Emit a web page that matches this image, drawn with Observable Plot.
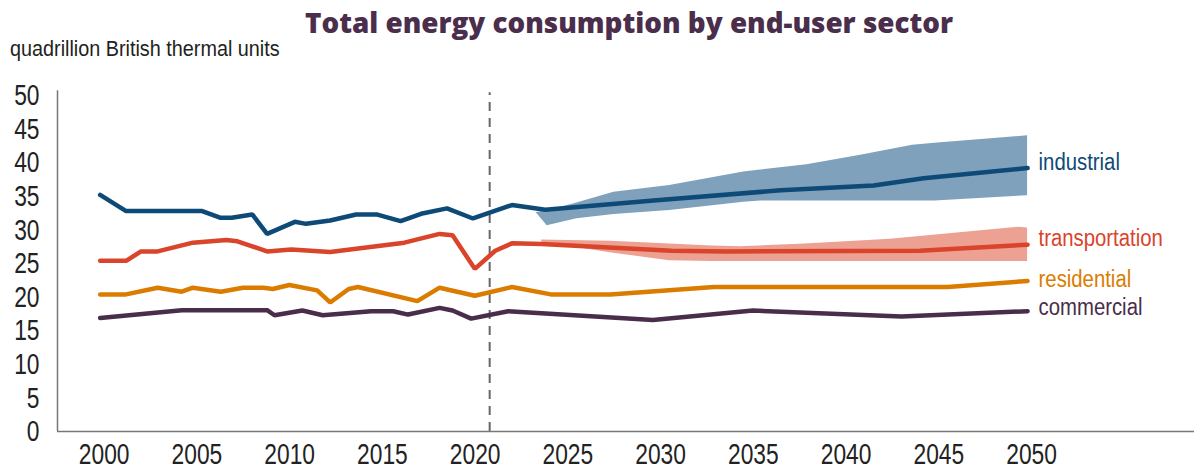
<!DOCTYPE html>
<html>
<head>
<meta charset="utf-8">
<script src="https://cdn.jsdelivr.net/npm/d3@7"></script>
<script src="https://cdn.jsdelivr.net/npm/@observablehq/plot@0.6"></script>
<style>
  body { margin: 0; background: #fff; }
  #wrap { position: relative; width: 1194px; height: 469px; }
  #title { position: absolute; left: 0; width: 1194px; top: 3px; text-align: center; padding-left: 64px; box-sizing: border-box;
           font-family: "Open Sans", Lato, sans-serif; font-weight: 800; font-size: 27.8px; color: #4b2d4c; white-space: nowrap; }
  #subtitle { position: absolute; left: 10px; top: 36px; font-family: "Liberation Sans", Arial, sans-serif;
              font-size: 22px; color: #231f20; transform: scaleX(0.9); transform-origin: left top; white-space: nowrap; }
</style>
</head>
<body>
<div id="wrap">
  <div id="chart"></div>
  <div id="title">Total energy consumption by end-user sector</div>
  <div id="subtitle">quadrillion British thermal units</div>
</div>
<script>
// ---- data ----
const sectors = ["industrial", "transportation", "residential", "commercial"];
const sectorColors = ["#0d4a77", "#d9442b", "#db7c00", "#4a2c4b"];
const bandColors = ["#7fa1bb", "#eca192"];

const industrialYears = [2000, 2001.4, 2005.5, 2006.5, 2007.1, 2008.2, 2009.0, 2010.5, 2011.1, 2012.4, 2013.8, 2014.9, 2016.2, 2017.3, 2018.7, 2020.1, 2022.2, 2024.0, 2030.0, 2036.7, 2041.7, 2044.4, 2050];
const industrialValues = [35.2, 32.8, 32.8, 31.8, 31.8, 32.3, 29.4, 31.2, 30.9, 31.4, 32.3, 32.3, 31.3, 32.4, 33.2, 31.7, 33.7, 33.0, 34.4, 35.9, 36.6, 37.7, 39.2];

const transportationYears = [2000, 2001.4, 2002.2, 2003.1, 2005.0, 2006.8, 2007.4, 2009.0, 2010.3, 2012.4, 2016.4, 2018.3, 2019.0, 2020.2, 2021.3, 2022.2, 2023.8, 2030.8, 2033.8, 2044.2, 2050];
const transportationValues = [25.4, 25.4, 26.8, 26.8, 28.1, 28.5, 28.3, 26.8, 27.1, 26.7, 28.1, 29.4, 29.2, 24.2, 26.9, 28.0, 27.9, 26.9, 26.8, 26.9, 27.8];

const residentialYears = [2000, 2001.4, 2003.1, 2004.4, 2005.0, 2006.5, 2007.7, 2008.8, 2009.3, 2010.2, 2011.7, 2012.4, 2013.4, 2013.9, 2017.1, 2018.3, 2020.2, 2022.2, 2024.3, 2027.5, 2033.1, 2045.7, 2050];
const residentialValues = [20.4, 20.4, 21.4, 20.8, 21.4, 20.8, 21.4, 21.4, 21.2, 21.8, 21.0, 19.2, 21.2, 21.5, 19.4, 21.4, 20.2, 21.5, 20.4, 20.4, 21.5, 21.5, 22.4];

const commercialYears = [2000, 2004.4, 2009.0, 2009.4, 2010.9, 2012.0, 2014.6, 2015.8, 2016.6, 2018.3, 2019.0, 2020.0, 2022.0, 2029.8, 2035.2, 2043.2, 2050];
const commercialValues = [16.9, 18.05, 18.05, 17.3, 18.0, 17.3, 17.9, 17.9, 17.4, 18.4, 18.0, 16.8, 17.9, 16.6, 18.0, 17.1, 17.9];

// projection ranges
const industrialBandYears = [2023.5, 2024.1, 2025.7, 2027.7, 2030.7, 2034.7, 2035.6, 2038.1, 2041.0, 2043.8, 2045.0, 2050];
const industrialBandLow   = [32.6, 30.6, 31.65, 32.3, 32.9, 34.1, 34.3, 34.3, 34.3, 34.3, 34.3, 35.1];
const industrialBandHigh  = [32.6, 32.8, 34.0, 35.6, 36.6, 38.6, 38.9, 39.7, 41.1, 42.6, 42.9, 44.0];

const transportationBandYears = [2023.8, 2027.5, 2030.7, 2033.0, 2034.5, 2038.0, 2042.6, 2049.5, 2050];
const transportationBandLow   = [28.2, 26.6, 25.4, 25.3, 25.3, 25.3, 25.3, 25.3, 25.3];
const transportationBandHigh  = [28.5, 28.3, 27.9, 27.6, 27.5, 27.9, 28.6, 30.4, 30.3];

const xTicks = [2000, 2005, 2010, 2015, 2020, 2025, 2030, 2035, 2040, 2045, 2050];
const yTicks = [0, 5, 10, 15, 20, 25, 30, 35, 40, 45, 50];
const historyEndYear = 2021;
const xDomain = [1997.7, 2059];
const yDomain = [0, 50];
const labelDy = [-6, -7, -2, -4];

// ---- build tables ----
const seriesYears = [industrialYears, transportationYears, residentialYears, commercialYears];
const seriesValues = [industrialValues, transportationValues, residentialValues, commercialValues];
const lines = sectors.flatMap((s, i) => seriesYears[i].map((yr, j) => ({sector: s, year: yr, value: seriesValues[i][j]})));
const indBand = industrialBandYears.map((yr, j) => ({year: yr, low: industrialBandLow[j], high: industrialBandHigh[j]}));
const trBand = transportationBandYears.map((yr, j) => ({year: yr, low: transportationBandLow[j], high: transportationBandHigh[j]}));
const labelMarks = sectors.map((s, i) => Plot.text([{sector: s, year: seriesYears[i].at(-1), value: seriesValues[i].at(-1)}],
  {x: "year", y: "value", text: "sector", fill: sectorColors[i], dx: 11, dy: labelDy[i], textAnchor: "start", fontSize: 24.5}));

const font = '"Liberation Sans", Arial, sans-serif';

const chart = Plot.plot({
  width: 1194,
  height: 469,
  marginLeft: 57,
  marginRight: 0,
  marginTop: 95,
  marginBottom: 38,
  style: {fontFamily: font, background: "#fff", overflow: "visible"},
  x: {domain: xDomain},
  y: {domain: yDomain},
  color: {domain: sectors, range: sectorColors},
  marks: [
    Plot.areaY(indBand, {x: "year", y1: "low", y2: "high", fill: bandColors[0], curve: "linear"}),
    Plot.areaY(trBand, {x: "year", y1: "low", y2: "high", fill: bandColors[1], curve: "linear"}),
    Plot.ruleX([historyEndYear], {y1: 0, y2: 50.4, stroke: "#666", strokeWidth: 2, strokeDasharray: "9,7"}),
    Plot.line(lines, {x: "year", y: "value", z: "sector", stroke: "sector", strokeWidth: 4.5, strokeLinejoin: "miter", strokeLinecap: "round"}),
    Plot.ruleY([0], {stroke: "#777", strokeWidth: 1.5}),
    Plot.ruleX([xDomain[0]], {y1: 0, y2: 50.7, stroke: "#777", strokeWidth: 1.5}),
    Plot.axisX({ticks: xTicks, tickFormat: "d", tickSize: 0, tickPadding: 11, dx: 4, fontSize: 30, label: null, fill: "#222"}),
    Plot.axisY({ticks: yTicks, tickSize: 0, tickPadding: 18, fontSize: 30, label: null, fill: "#222"}),
    ...labelMarks
  ]
});
document.getElementById("chart").appendChild(chart);

// condense the text horizontally about each text's own x position (reference uses a condensed face)
d3.select(chart).selectAll("text").each(function() {
  const isLabel = this.closest("g[aria-label='text']") != null;
  const s = isLabel ? 0.83 : 0.76;
  const xAttr = parseFloat(this.getAttribute("x"));
  const x = Number.isFinite(xAttr) ? xAttr : 0;
  const t = this.getAttribute("transform") || "";
  this.setAttribute("transform", `${t} translate(${x},0) scale(${s},1) translate(${-x},0)`.trim());
});
</script>
</body>
</html>
